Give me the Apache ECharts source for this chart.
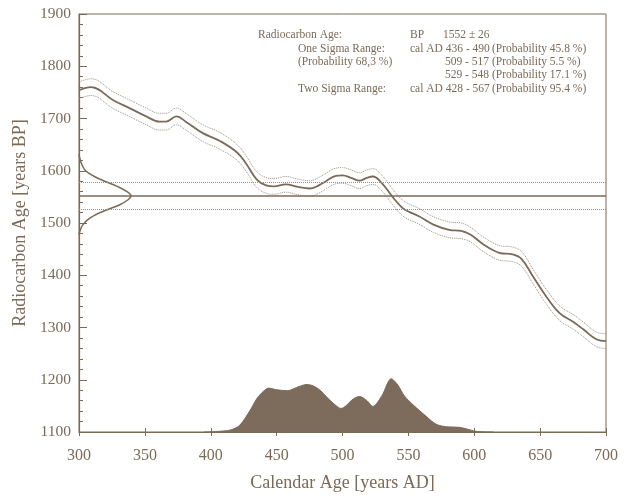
<!DOCTYPE html>
<html>
<head>
<meta charset="utf-8">
<script src="https://cdn.jsdelivr.net/npm/echarts@6/dist/echarts.min.js"></script>
<style>
  html, body { margin: 0; padding: 0; background: #fff; }
  #chart { width: 630px; height: 497px; }
</style>
</head>
<body>
<div id="chart"></div>
<script>
// calibration curve: [cal AD, BP]
var calCurve = [
  [300, 1754], [309, 1760], [326, 1735], [339, 1719], [351, 1704], [361, 1694], [366, 1694],
  [374, 1704], [381, 1694], [394, 1672], [407, 1657], [420, 1635], [427, 1613], [435, 1583],
  [442, 1572], [448, 1570], [457, 1574], [466, 1569], [475, 1566], [482, 1572], [488, 1581],
  [495, 1590], [500, 1591], [507, 1586], [513, 1581], [518, 1586], [523, 1589], [530, 1576],
  [538, 1550], [545, 1530], [550, 1522], [558, 1513], [569, 1497], [581, 1487], [590, 1485],
  [597, 1478], [607, 1459], [619, 1443], [629, 1440], [636, 1431], [645, 1396], [655, 1358],
  [665, 1327], [675, 1311], [683, 1296], [693, 1277], [700, 1274]
]
// 1 sigma half width of the curve at each point
var calSigma = [
  16, 16, 16, 16, 16, 16, 16,
  16, 16, 16, 16, 15, 15, 15,
  15, 15, 15, 15, 15, 15, 15,
  15, 15, 15, 15, 15, 15, 15,
  15, 15, 15, 15, 15, 15, 15,
  14, 14, 14, 14, 14, 14, 14,
  14, 14, 14, 14, 14
]

// measured radiocarbon age
var bpMean = 1552
var bpSigma = 26

// measured age distribution on the left: [BP, width in years]
var bpDist = [
  [1632, 0], [1620, 1], [1610, 2.5], [1600, 5], [1590, 11], [1580, 19.5], [1570, 29],
  [1560, 36.5], [1552, 39.5], [1545, 37.5], [1535, 31], [1525, 21], [1515, 12],
  [1505, 6], [1495, 2.5], [1485, 0.8], [1478, 0]
]

// calibrated probability at the bottom: [cal AD, top in BP units]
var calProb = [
  [395, 1100], [405, 1101], [415, 1104], [422, 1113], [430, 1142], [435, 1164], [440, 1178],
  [444, 1184], [450, 1181], [458, 1179], [467, 1187], [473, 1191], [478, 1188], [483, 1180],
  [488, 1167], [493, 1155], [499, 1145], [503, 1151], [508, 1163], [513, 1168], [519, 1159],
  [523, 1149], [530, 1170], [537, 1202], [542, 1190], [547, 1169], [554, 1151], [564, 1129],
  [571, 1115], [579, 1110], [589, 1109], [597, 1104], [602, 1101], [615, 1100]
]

var xTicks = [300, 350, 400, 450, 500, 550, 600, 650, 700]

var brown = '#7b6a58'
var light = '#9d8f82'
var font = 'Liberation Serif'

var upper = calCurve.map(function (p, i) { return [p[0], p[1] + calSigma[i]] })
var lower = calCurve.map(function (p, i) { return [p[0], p[1] - calSigma[i]] })
var distLine = bpDist.map(function (p) { return [xTicks[0] + p[1], p[0]] })

var textRows = [
  // [text, x, y, align]
  ['Radiocarbon Age:', 258, 35, 'left'],
  ['BP', 410, 35, 'left'],
  ['1552 \u00b1 26', 443, 35, 'left'],
  ['One Sigma Range:', 298, 48.5, 'left'],
  ['cal AD 436 - 490', 410, 48.5, 'left'],
  ['(Probability 45.8 %)', 492, 48.5, 'left'],
  ['(Probability 68,3 %)', 298, 62, 'left'],
  ['509 - 517', 489, 62, 'right'],
  ['(Probability 5.5 %)', 492, 62, 'left'],
  ['529 - 548', 489, 75, 'right'],
  ['(Probability 17.1 %)', 492, 75, 'left'],
  ['Two Sigma Range:', 298, 88.5, 'left'],
  ['cal AD 428 - 567', 410, 88.5, 'left'],
  ['(Probability 95.4 %)', 492, 88.5, 'left']
]

var chart = echarts.init(document.getElementById('chart'))
chart.setOption({
  animation: false,
  backgroundColor: '#fff',
  grid: {
    left: 79, right: 24, top: 14, bottom: 58,
    show: true, borderColor: brown, borderWidth: 1
  },
  xAxis: [{
    type: 'value',
    min: 300, max: 700, interval: 50,
    name: 'Calendar Age [years AD]',
    nameLocation: 'middle',
    nameGap: 42,
    nameTextStyle: { fontFamily: font, fontSize: 18, color: brown },
    axisLine: { lineStyle: { color: brown, width: 1.2 } },
    axisTick: { inside: true, length: 4, lineStyle: { color: brown } },
    axisLabel: { fontFamily: font, fontSize: 16, color: brown, margin: 16 },
    splitLine: { show: false }
  }, {
    type: 'value',
    position: 'bottom',
    min: 300, max: 700, interval: 50,
    axisLine: { show: false },
    axisTick: { inside: false, length: 4, lineStyle: { color: brown } },
    axisLabel: { show: false },
    splitLine: { show: false }
  }],
  yAxis: [{
    type: 'value',
    min: 1100, max: 1900, interval: 100,
    name: 'Radiocarbon Age [years BP]',
    nameLocation: 'middle',
    nameGap: 45,
    nameTextStyle: { fontFamily: font, fontSize: 18, color: brown },
    axisLine: { show: true, lineStyle: { color: brown, width: 1.2 } },
    axisTick: { inside: true, length: 8, lineStyle: { color: brown } },
    axisLabel: {
      fontFamily: font, fontSize: 15.5, color: brown, margin: 8,
      formatter: function (v) { return String(v) }
    },
    splitLine: { show: false }
  }, {
    // minor ticks every 20 years
    type: 'value',
    position: 'left',
    min: 1100, max: 1900, interval: 20,
    axisLine: { show: false },
    axisTick: { inside: true, length: 4, lineStyle: { color: brown } },
    axisLabel: { show: false },
    splitLine: { show: false }
  }],
  series: [{
    name: 'probability',
    type: 'line',
    data: calProb,
    smooth: 0.3,
    symbol: 'none',
    lineStyle: { color: '#7d6c5b', width: 1 },
    areaStyle: { color: '#7d6c5b', opacity: 1 },
    z: 1
  }, {
    name: 'upper',
    type: 'line',
    data: upper,
    smooth: 0.4,
    symbol: 'none',
    lineStyle: { color: light, width: 1, type: 'dotted' }
  }, {
    name: 'lower',
    type: 'line',
    data: lower,
    smooth: 0.4,
    symbol: 'none',
    lineStyle: { color: light, width: 1, type: 'dotted' }
  }, {
    name: 'curve',
    type: 'line',
    data: calCurve,
    smooth: 0.4,
    symbol: 'none',
    lineStyle: { color: brown, width: 1.8 },
    markLine: {
      silent: true,
      symbol: 'none',
      label: { show: false },
      data: [
        { yAxis: bpMean, lineStyle: { color: brown, width: 1.6, type: 'solid' } },
        { yAxis: bpMean + bpSigma, lineStyle: { color: light, width: 1, type: 'dotted' } },
        { yAxis: bpMean - bpSigma, lineStyle: { color: light, width: 1, type: 'dotted' } }
      ]
    }
  }, {
    name: 'measured',
    type: 'line',
    data: distLine,
    smooth: 0.4,
    symbol: 'none',
    lineStyle: { color: brown, width: 1.5 }
  }],
  graphic: textRows.map(function (r) {
    return {
      type: 'text',
      x: r[1], y: r[2],
      style: {
        text: r[0],
        fill: brown,
        font: '11.5px "' + font + '"',
        textAlign: r[3],
        textVerticalAlign: 'middle'
      }
    }
  })
})
</script>
</body>
</html>
